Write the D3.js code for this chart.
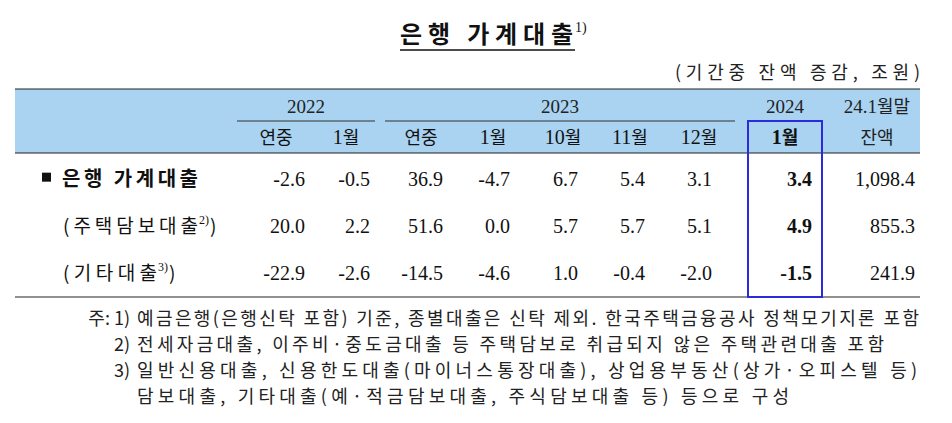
<!DOCTYPE html>
<html><head><meta charset="utf-8">
<script src="https://cdn.jsdelivr.net/npm/d3@7"></script>
<style>body{margin:0;background:#fff}</style></head>
<body><svg id="c" width="952" height="423"></svg>
<script>
const years = [{label:"2022",from:0,to:1},{label:"2023",from:2,to:6},{label:"2024",from:7,to:7}];
const columns = ["연중","1월","연중","1월","10월","11월","12월","1월"];
const rowLabels = ["■ 은행 가계대출","(주택담보대출","(기타대출"];
const rowSup = ["","2)","3)"];
const values = [
  [-2.6,-0.5,36.9,-4.7,6.7,5.4,3.1,3.4],
  [20.0,2.2,51.6,0.0,5.7,5.7,5.1,4.9],
  [-22.9,-2.6,-14.5,-4.6,1.0,-0.4,-2.0,-1.5]
];
const balances = [1098.4,855.3,241.9];
const notes = [
  ["주: 1)","예금은행(은행신탁 포함) 기준, 종별대출은 신탁 제외. 한국주택금융공사 정책모기지론 포함",782],
  ["2)","전세자금대출, 이주비·중도금대출 등 주택담보로 취급되지 않은 주택관련대출 포함",747],
  ["3)","일반신용대출, 신용한도대출(마이너스통장대출), 상업용부동산(상가·오피스텔 등)",780],
  ["","담보대출, 기타대출(예·적금담보대출, 주식담보대출 등) 등으로 구성",652]
];
const svg = d3.select("#c");
const serif = "'Liberation Serif','DejaVu Serif',serif";
const kr = "'Noto Sans CJK KR',sans-serif";
const fmt = v => d3.format(".1f")(v).replace("−","-");
const fmtB = v => d3.format(",.1f")(v).replace("−","-");
const colRight = [305,370,443,510,578,645,712,812];
const colCenter = [276,346,421,493,563,630,699,785];
const x = d3.scaleOrdinal().domain(d3.range(8)).range(colRight);
const xc = d3.scaleOrdinal().domain(d3.range(8)).range(colCenter);
const y = d3.scaleBand().domain(d3.range(3)).range([155,297]);

// title
svg.append("text").attr("x",400).attr("y",43)
  .attr("font-family",kr).attr("font-weight","bold").attr("font-size",24).attr("fill","#111")
  .attr("textLength",173).attr("lengthAdjust","spacing").text("은행 가계대출");
svg.append("text").attr("x",575).attr("y",32).attr("font-family",serif).attr("font-size",14).attr("fill","#111").text("1)");
svg.append("line").attr("x1",400).attr("x2",575).attr("y1",50).attr("y2",50).attr("stroke","#111").attr("stroke-width",1.5);
svg.append("text").attr("x",675).attr("y",79).attr("font-family",kr)
  .attr("font-size",18).attr("fill","#222").attr("textLength",245).attr("lengthAdjust","spacing").text("(기간중 잔액 증감, 조원)");

// header band
svg.append("rect").attr("x",15).attr("y",89).attr("width",905).attr("height",64).attr("fill","#a9d3f1");
[89,153,297].forEach(v=>svg.append("line").attr("x1",15).attr("x2",920).attr("y1",v).attr("y2",v).attr("stroke","#222").attr("stroke-width",1.2));

const yrX = {0:[237,375],1:[385,735],2:[748,822]};
years.forEach((d,i)=>{
  const [a,b]=yrX[i];
  svg.append("text").attr("x",(a+b)/2).attr("y",113).attr("text-anchor","middle")
    .attr("font-family",serif).attr("font-size",19).attr("fill","#222").text(d.label);
  if(i<2) svg.append("line").attr("x1",a).attr("x2",b).attr("y1",121).attr("y2",121).attr("stroke","#333");
});
const bt = svg.append("text").attr("x",877).attr("y",113).attr("text-anchor","middle").attr("fill","#222");
bt.append("tspan").attr("font-family",serif).attr("font-size",19).text("24.1");
bt.append("tspan").attr("font-family",kr).attr("font-size",18).text("월말");
svg.append("text").attr("x",877).attr("y",144).attr("text-anchor","middle").attr("font-family",kr)
  .attr("font-size",18).attr("fill","#222").text("잔액");
columns.forEach((c,i)=>{
  const m = c.match(/^(\d*)(.*)$/);
  const tx = svg.append("text").attr("x",xc(i)).attr("y",144).attr("text-anchor","middle")
    .attr("fill","#111").attr("font-weight",i===7?"bold":"normal");
  if(m[1]) tx.append("tspan").attr("font-family",serif).attr("font-size",20).text(m[1]);
  tx.append("tspan").attr("font-family",kr).attr("font-size",18).text(m[2]);
});

// rows
rowLabels.forEach((r,j)=>{
  const yy = y(j)+y.bandwidth()/2+7;
  if(j===0){
    svg.append("rect").attr("x",42).attr("y",yy-13).attr("width",9).attr("height",9).attr("fill","#111");
    svg.append("text").attr("x",62).attr("y",yy).attr("font-family",kr).attr("font-size",20)
      .attr("font-weight","bold").attr("fill","#111").attr("textLength",136).attr("lengthAdjust","spacing").text(r.slice(2));
  } else {
    const w = j===1?135:94;
    svg.append("text").attr("x",63).attr("y",yy).attr("font-family",kr).attr("font-size",19)
      .attr("fill","#111").attr("textLength",w).attr("lengthAdjust","spacing").text(r);
    svg.append("text").attr("x",63+w+1).attr("y",yy-9).attr("font-family",serif).attr("font-size",12).attr("fill","#111").text(rowSup[j]);
    svg.append("text").attr("x",63+w+12).attr("y",yy).attr("font-family",kr).attr("font-size",19).attr("fill","#111").text(")");
  }
  values[j].forEach((v,i)=>{
    svg.append("text").attr("x",x(i)).attr("y",yy).attr("text-anchor","end").attr("font-family",serif)
      .attr("font-size",20).attr("font-weight",i===7?"bold":"normal").attr("fill","#111").text(fmt(v));
  });
  svg.append("text").attr("x",915).attr("y",yy).attr("text-anchor","end").attr("font-family",serif)
    .attr("font-size",20).attr("fill","#111").text(fmtB(balances[j]));
});
svg.append("rect").attr("x",748).attr("y",121).attr("width",74).attr("height",176)
  .attr("fill","none").attr("stroke","#2b2bd9").attr("stroke-width",2);

// notes
notes.forEach((n,i)=>{
  const yy = 325+i*26;
  svg.append("text").attr("x",130).attr("y",yy).attr("text-anchor","end").attr("font-family",kr)
    .attr("font-size",18).attr("fill","#222").text(n[0]);
  svg.append("text").attr("x",137).attr("y",yy).attr("font-family",kr)
    .attr("font-size",18).attr("fill","#222").attr("textLength",n[2]).attr("lengthAdjust","spacing").text(n[1]);
});
</script></body></html>
